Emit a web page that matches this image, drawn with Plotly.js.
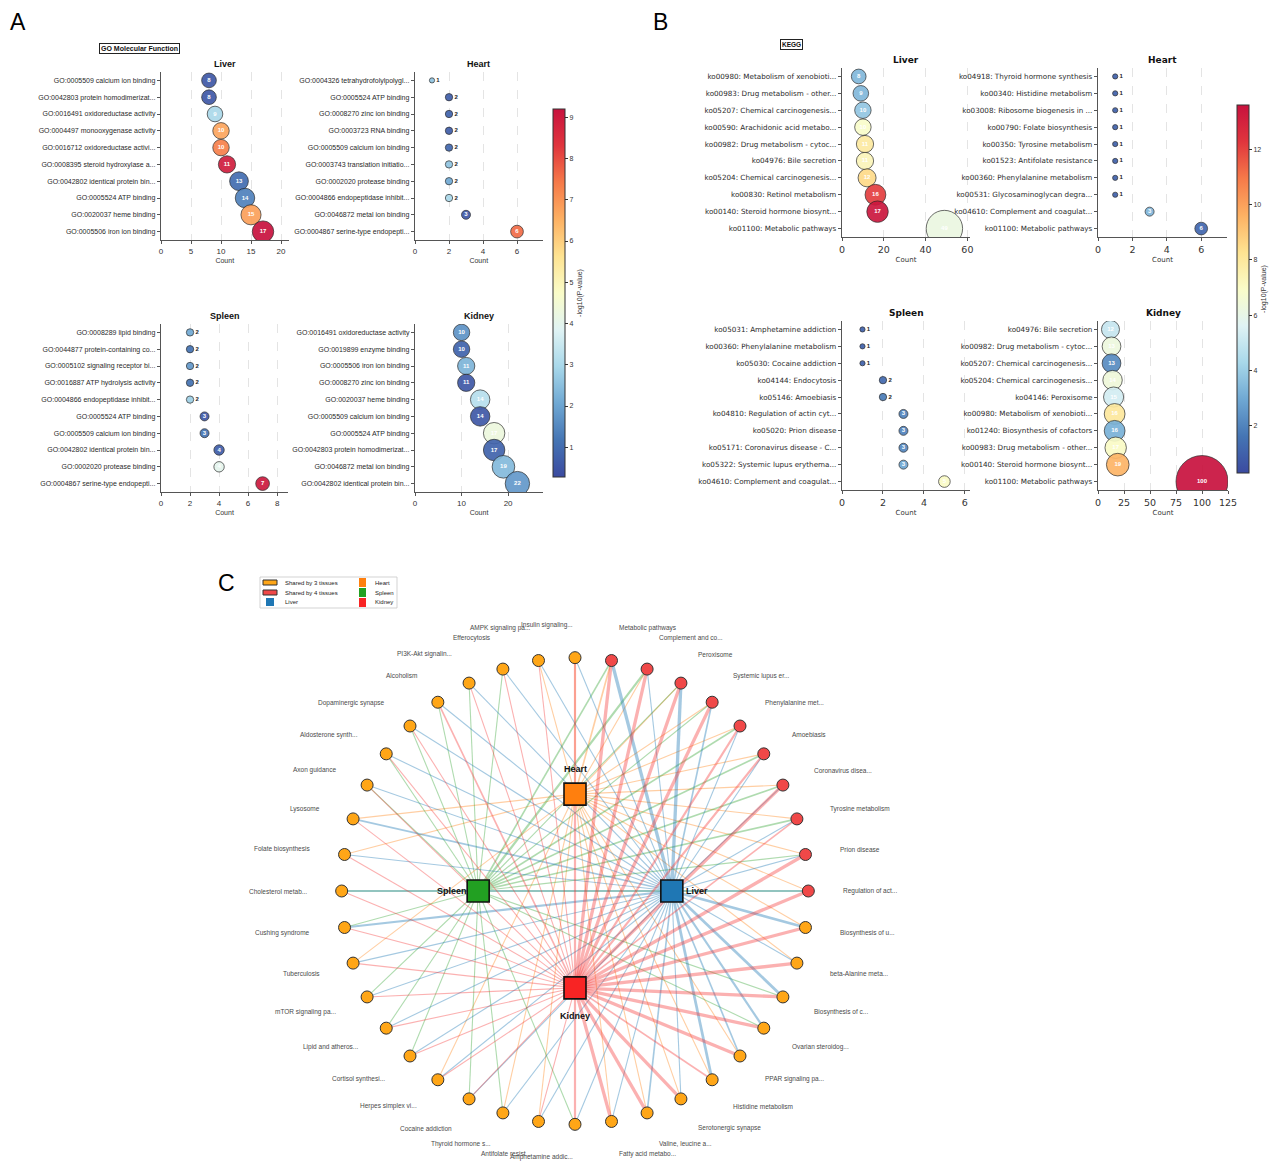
<!DOCTYPE html>
<html>
<head>
<meta charset="utf-8">
<script src="https://cdn.plot.ly/plotly-3.0.1.min.js"></script>
<style>
  html, body { margin: 0; padding: 0; background: #fff; }
  #chart { width: 1281px; height: 1170px; }
</style>
</head>
<body>
<div id="chart"></div>
<script>
// ---- GO Molecular Function (panel A) ----
var goLiverTerms = ['GO:0005509 calcium ion binding', 'GO:0042803 protein homodimerizat...', 'GO:0016491 oxidoreductase activity',
  'GO:0004497 monooxygenase activity', 'GO:0016712 oxidoreductase activi...', 'GO:0008395 steroid hydroxylase a...',
  'GO:0042802 identical protein bin...', 'GO:0005524 ATP binding', 'GO:0020037 heme binding', 'GO:0005506 iron ion binding'];
var goLiverCount = [8, 8, 9, 10, 10, 11, 13, 14, 15, 17];
var goLiverLogP = [0.6, 0.6, 3.0, 6.7, 7.3, 8.9, 1.0, 1.4, 6.8, 9.2];

var goHeartTerms = ['GO:0004326 tetrahydrofolylpolygl...', 'GO:0005524 ATP binding', 'GO:0008270 zinc ion binding',
  'GO:0003723 RNA binding', 'GO:0005509 calcium ion binding', 'GO:0003743 translation initiatio...',
  'GO:0002020 protease binding', 'GO:0004866 endopeptidase inhibit...', 'GO:0046872 metal ion binding',
  'GO:0004867 serine-type endopepti...'];
var goHeartCount = [1, 2, 2, 2, 2, 2, 2, 2, 3, 6];
var goHeartLogP = [2.6, 0.7, 0.8, 0.7, 0.9, 2.6, 2.1, 3.0, 0.6, 7.6];

var goSpleenTerms = ['GO:0008289 lipid binding', 'GO:0044877 protein-containing co...', 'GO:0005102 signaling receptor bi...',
  'GO:0016887 ATP hydrolysis activity', 'GO:0004866 endopeptidase inhibit...', 'GO:0005524 ATP binding',
  'GO:0005509 calcium ion binding', 'GO:0042802 identical protein bin...', 'GO:0002020 protease binding',
  'GO:0004867 serine-type endopepti...'];
var goSpleenCount = [2, 2, 2, 2, 2, 3, 3, 4, 4, 7];
var goSpleenLogP = [2.1, 1.1, 1.8, 1.1, 2.8, 0.6, 1.1, 0.7, 4.0, 9.0];

var goKidneyTerms = ['GO:0016491 oxidoreductase activity', 'GO:0019899 enzyme binding', 'GO:0005506 iron ion binding',
  'GO:0008270 zinc ion binding', 'GO:0020037 heme binding', 'GO:0005509 calcium ion binding', 'GO:0005524 ATP binding',
  'GO:0042803 protein homodimerizat...', 'GO:0046872 metal ion binding', 'GO:0042802 identical protein bin...'];
var goKidneyCount = [10, 10, 11, 11, 14, 14, 17, 17, 19, 22];
var goKidneyLogP = [1.7, 0.8, 2.3, 0.6, 3.2, 0.6, 4.3, 0.8, 2.4, 1.8];

// ---- KEGG (panel B) ----
var keggLiverTerms = ['ko00980: Metabolism of xenobioti...', 'ko00983: Drug metabolism - other...', 'ko05207: Chemical carcinogenesis...',
  'ko00590: Arachidonic acid metabo...', 'ko00982: Drug metabolism - cytoc...', 'ko04976: Bile secretion',
  'ko05204: Chemical carcinogenesis...', 'ko00830: Retinol metabolism', 'ko00140: Steroid hormone biosynt...',
  'ko01100: Metabolic pathways'];
var keggLiverCount = [8, 9, 10, 10, 11, 11, 12, 16, 17, 49];
var keggLiverLogP = [3.4, 3.4, 3.8, 6.9, 7.9, 7.3, 8.5, 12.1, 13.4, 6.2];

var keggHeartTerms = ['ko04918: Thyroid hormone synthesis', 'ko00340: Histidine metabolism', 'ko03008: Ribosome biogenesis in ...',
  'ko00790: Folate biosynthesis', 'ko00350: Tyrosine metabolism', 'ko01523: Antifolate resistance',
  'ko00360: Phenylalanine metabolism', 'ko00531: Glycosaminoglycan degra...', 'ko04610: Complement and coagulat...',
  'ko01100: Metabolic pathways'];
var keggHeartCount = [1, 1, 1, 1, 1, 1, 1, 1, 3, 6];
var keggHeartLogP = [1.0, 1.0, 1.0, 1.0, 1.0, 1.0, 1.0, 1.0, 3.3, 1.2];

var keggSpleenTerms = ['ko05031: Amphetamine addiction', 'ko00360: Phenylalanine metabolism', 'ko05030: Cocaine addiction',
  'ko04144: Endocytosis', 'ko05146: Amoebiasis', 'ko04810: Regulation of actin cyt...', 'ko05020: Prion disease',
  'ko05171: Coronavirus disease - C...', 'ko05322: Systemic lupus erythema...', 'ko04610: Complement and coagulat...'];
var keggSpleenCount = [1, 1, 1, 2, 2, 3, 3, 3, 3, 5];
var keggSpleenLogP = [1.0, 1.0, 1.0, 1.3, 1.8, 2.0, 2.0, 2.1, 2.9, 7.0];

var keggKidneyTerms = ['ko04976: Bile secretion', 'ko00982: Drug metabolism - cytoc...', 'ko05207: Chemical carcinogenesis...',
  'ko05204: Chemical carcinogenesis...', 'ko04146: Peroxisome', 'ko00980: Metabolism of xenobioti...',
  'ko01240: Biosynthesis of cofactors', 'ko00983: Drug metabolism - other...', 'ko00140: Steroid hormone biosynt...',
  'ko01100: Metabolic pathways'];
var keggKidneyCount = [12, 13, 13, 14, 15, 16, 16, 17, 19, 100];
var keggKidneyLogP = [5.0, 6.3, 2.2, 6.4, 5.3, 8.0, 3.2, 7.0, 9.5, 13.6];

// ---- shared pathway network (panel C), counter-clockwise from 3 o'clock ----
var tissues = ['Liver', 'Heart', 'Spleen', 'Kidney'];
var pathways = ['Regulation of act...', 'Prion disease', 'Tyrosine metabolism', 'Coronavirus disea...', 'Amoebiasis',
  'Phenylalanine met...', 'Systemic lupus er...', 'Peroxisome', 'Complement and co...', 'Metabolic pathways',
  'Insulin signaling...', 'AMPK signaling pa...', 'Efferocytosis', 'PI3K-Akt signalin...', 'Alcoholism',
  'Dopaminergic synapse', 'Aldosterone synth...', 'Axon guidance', 'Lysosome', 'Folate biosynthesis',
  'Cholesterol metab...', 'Cushing syndrome', 'Tuberculosis', 'mTOR signaling pa...', 'Lipid and atheros...',
  'Cortisol synthesi...', 'Herpes simplex vi...', 'Cocaine addiction', 'Thyroid hormone s...', 'Antifolate resist...',
  'Amphetamine addic...', 'Fatty acid metabo...', 'Valine, leucine a...', 'Serotonergic synapse', 'Histidine metabolism',
  'PPAR signaling pa...', 'Ovarian steroidog...', 'Biosynthesis of c...', 'beta-Alanine meta...', 'Biosynthesis of u...'];
// edge weight from each tissue to each pathway (0 = pathway not enriched in that tissue)
var liverEdge  = [1.5, 1, 1, 1, 1, 1, 1.5, 3, 1, 3,  1, 1, 1, 1, 1, 1, 1, 1, 1.5, 1,  1.5, 2, 1, 1, 1, 1, 1, 1, 1, 1,  1, 1, 1.5, 1, 2.5, 1.5, 2, 2.5, 1, 2.5];
var heartEdge  = [1, 1, 1, 1, 1, 1, 1, 1, 1, 1.5,  1, 1, 0, 0, 0, 0, 0, 0, 1, 1,  0, 0, 1, 0, 0, 0, 1, 0, 1, 1,  0, 1, 1, 1, 1, 1, 0, 0, 1, 1];
var spleenEdge = [1.5, 1, 1.5, 1.5, 1.5, 1.5, 1, 1, 2, 1.5,  0, 0, 1, 1, 1, 1, 1, 1, 0, 0,  1.5, 1, 0, 1, 1, 1, 0, 1, 1, 0,  1, 0, 0, 0, 0, 0, 1, 1, 0, 0];
var kidneyEdge = [3, 3, 1.5, 3, 2, 2, 3, 3, 3, 3,  2, 1, 1, 1, 1.5, 1, 1, 1, 1, 1,  1, 1, 1, 1, 1, 1, 1, 1, 0, 1,  2, 3, 3, 3, 1.5, 3, 3, 3, 3, 3];

// ---------------------------------------------------------------
var W = 1281, H = 1170;
function px(x) { return x / W; }
function py(y) { return 1 - y / H; }

var CSCALE = [[0, '#3b4aa0'], [0.1, '#4575b4'], [0.2, '#6fa8d3'], [0.3, '#a8d8ea'], [0.4, '#e0f3f4'],
  [0.5, '#fafcc8'], [0.6, '#fee391'], [0.7, '#fdb163'], [0.8, '#f67a49'], [0.9, '#e0353d'], [1, '#c8123e']];

var FA = 'Liberation Sans, Arial, sans-serif';
var FB = 'DejaVu Sans, sans-serif';

function dotTrace(terms, counts, logp, n, cmin, cmax, cbar) {
  return {
    type: 'scatter', mode: 'markers+text',
    x: counts, y: terms,
    xaxis: 'x' + n, yaxis: 'y' + n,
    text: counts.map(String),
    textposition: counts.map(function (c) { return c <= 2 ? 'middle right' : 'middle center'; }),
    textfont: { family: FA, size: 6, weight: 'bold',
      color: counts.map(function (c) { return c <= 2 ? '#222' : '#fff'; }) },
    marker: {
      size: counts.map(function (c) { return 5.2 * Math.sqrt(c); }), sizemode: 'diameter',
      color: logp, cmin: cmin, cmax: cmax, colorscale: CSCALE,
      showscale: !!cbar, colorbar: cbar,
      opacity: 0.92, line: { color: 'rgba(30,30,30,0.7)', width: 1 }
    },
    cliponaxis: true, showlegend: false, hoverinfo: 'skip'
  };
}

function cbar(xp, y0, y1, vals) {
  return {
    x: px(xp), xanchor: 'left', xpad: 0, ypad: 0,
    y: py((y0 + y1) / 2), yanchor: 'middle', len: (y1 - y0) / H, lenmode: 'fraction',
    thickness: 12, thicknessmode: 'pixels', outlinewidth: 1, outlinecolor: '#333',
    ticks: 'outside', ticklen: 3, tickcolor: '#333', tickvals: vals,
    tickfont: { family: FA, size: 7, color: '#333' },
    title: { text: '-log10(P-value)', side: 'right', font: { family: FA, size: 7, color: '#333' } }
  };
}

var data = [
  dotTrace(goLiverTerms, goLiverCount, goLiverLogP, '', 0.28, 9.2, cbar(553, 109, 477, [1, 2, 3, 4, 5, 6, 7, 8, 9])),
  dotTrace(goHeartTerms, goHeartCount, goHeartLogP, '2', 0.28, 9.2),
  dotTrace(goSpleenTerms, goSpleenCount, goSpleenLogP, '3', 0.28, 9.2),
  dotTrace(goKidneyTerms, goKidneyCount, goKidneyLogP, '4', 0.28, 9.2),
  dotTrace(keggLiverTerms, keggLiverCount, keggLiverLogP, '5', 0.3, 13.6, cbar(1237, 105, 473, [2, 4, 6, 8, 10, 12])),
  dotTrace(keggHeartTerms, keggHeartCount, keggHeartLogP, '6', 0.3, 13.6),
  dotTrace(keggSpleenTerms, keggSpleenCount, keggSpleenLogP, '7', 0.3, 13.6),
  dotTrace(keggKidneyTerms, keggKidneyCount, keggKidneyLogP, '8', 0.3, 13.6)
];

var layout = {
  width: W, height: H, margin: { l: 0, r: 0, t: 0, b: 0 },
  paper_bgcolor: '#fff', plot_bgcolor: 'rgba(0,0,0,0)', showlegend: false,
  annotations: [], shapes: []
};

function addPanel(n, terms, x0, x1, y0, y1, xmax, dtick, fam, tickSize, labSize, titleText) {
  var xs = 'xaxis' + n, ys = 'yaxis' + n;
  layout[xs] = {
    domain: [px(x0), px(x1)], range: [0, xmax], dtick: dtick, tick0: 0, anchor: 'y' + n,
    showline: true, linecolor: '#555', linewidth: 1.2, ticks: 'outside', ticklen: 3, tickcolor: '#555',
    showgrid: true, gridcolor: '#d9d9d9', griddash: 'dash', gridwidth: 0.7, zeroline: false,
    tickfont: { family: fam, size: tickSize, color: '#333' },
    title: { text: 'Count', font: { family: fam, size: 7, color: '#333' }, standoff: 3 }
  };
  layout[ys] = {
    domain: [py(y1), py(y0)], type: 'category', categoryorder: 'array', categoryarray: terms,
    range: [terms.length - 0.5, -0.5], anchor: 'x' + n,
    showline: true, linecolor: '#555', linewidth: 1.2, ticks: 'outside', ticklen: 3, tickcolor: '#555',
    showgrid: false, zeroline: false,
    tickfont: { family: fam, size: labSize, color: '#2a2a2a' }
  };
  layout.annotations.push({ xref: 'paper', yref: 'paper', x: px((x0 + x1) / 2), y: py(y0 - 8),
    text: '<b>' + titleText + '</b>', showarrow: false, xanchor: 'center', yanchor: 'middle',
    font: { family: fam, size: 9, color: '#111' } });
}

addPanel('', goLiverTerms, 161, 288.5, 72, 240, 21.25, 5, FA, 8, 7, 'Liver');
addPanel('2', goHeartTerms, 415, 542.5, 72, 240, 7.5, 2, FA, 8, 7, 'Heart');
addPanel('3', goSpleenTerms, 161, 288, 324, 492, 8.75, 2, FA, 8, 7, 'Spleen');
addPanel('4', goKidneyTerms, 415, 543, 324, 492, 27.5, 10, FA, 8, 7, 'Kidney');
addPanel('5', keggLiverTerms, 842, 970, 68, 237, 61.25, 20, FB, 9.5, 7.2, 'Liver');
addPanel('6', keggHeartTerms, 1098, 1227, 68, 237, 7.5, 2, FB, 9.5, 7.2, 'Heart');
addPanel('7', keggSpleenTerms, 842, 970, 321, 490, 6.25, 2, FB, 9.5, 7.2, 'Spleen');
addPanel('8', keggKidneyTerms, 1098, 1228, 321, 490, 125, 25, FB, 9.5, 7.2, 'Kidney');

// panel letters and boxed headers
[['A', 18, 22], ['B', 660, 22], ['C', 226, 583]].forEach(function (p) {
  layout.annotations.push({ xref: 'paper', yref: 'paper', x: px(p[1]), y: py(p[2]), text: p[0],
    showarrow: false, xanchor: 'center', yanchor: 'middle', font: { family: FA, size: 23, color: '#000' } });
});
[['GO Molecular Function', 139, 49, 7], ['KEGG', 791, 45, 6.5]].forEach(function (p) {
  layout.annotations.push({ xref: 'paper', yref: 'paper', x: px(p[1]), y: py(p[2]), text: '<b>' + p[0] + '</b>',
    showarrow: false, xanchor: 'center', yanchor: 'middle', bgcolor: '#fff', bordercolor: '#222',
    borderwidth: 1, borderpad: 1, font: { family: FA, size: p[3], color: '#111' } });
});

// ---- network ----
layout.xaxis9 = { domain: [px(225), px(925)], range: [-1.5, 1.5], visible: false, anchor: 'y9' };
layout.yaxis9 = { domain: [0, py(600)], range: [-(1170 - 891) / 233.33, (891 - 600) / 233.33], visible: false, anchor: 'x9' };

var hubColor = { Liver: '#1f77b4', Heart: '#ff7f0e', Spleen: '#22a022', Kidney: '#f82424' };
var edgeColor = { Liver: 'rgba(31,119,180,0.4)', Heart: 'rgba(255,127,14,0.38)',
  Spleen: 'rgba(44,160,44,0.38)', Kidney: 'rgba(245,50,50,0.38)' };
var edges = { Liver: liverEdge, Heart: heartEdge, Spleen: spleenEdge, Kidney: kidneyEdge };

var N = pathways.length;
var ang = pathways.map(function (_, k) { return 2 * Math.PI * k / N; });
var nodeX = ang.map(Math.cos), nodeY = ang.map(Math.sin);
var hubR = 0.415;
var hubX = tissues.map(function (_, i) { return hubR * Math.cos(Math.PI / 2 * i); });
var hubY = tissues.map(function (_, i) { return hubR * Math.sin(Math.PI / 2 * i); });

['Heart', 'Spleen', 'Liver', 'Kidney'].forEach(function (t) {
  var h = tissues.indexOf(t), w = edges[t];
  var widths = w.filter(function (v, i, a) { return v > 0 && a.indexOf(v) === i; });
  widths.forEach(function (lw) {
    var xs = [], ys = [];
    w.forEach(function (v, k) {
      if (v === lw) { xs.push(hubX[h], nodeX[k], null); ys.push(hubY[h], nodeY[k], null); }
    });
    data.push({ type: 'scatter', mode: 'lines', x: xs, y: ys, xaxis: 'x9', yaxis: 'y9',
      line: { color: edgeColor[t], width: lw * 1.1 }, hoverinfo: 'skip', showlegend: false, cliponaxis: false });
  });
});

var shared = pathways.map(function (_, k) {
  return tissues.filter(function (t) { return edges[t][k] > 0; }).length;
});
data.push({ type: 'scatter', mode: 'markers', x: nodeX, y: nodeY, xaxis: 'x9', yaxis: 'y9',
  marker: { size: 12, color: shared.map(function (s) { return s === 4 ? '#f04848' : '#ffa617'; }),
    line: { color: '#333', width: 1 } }, hoverinfo: 'skip', showlegend: false, cliponaxis: false });
data.push({ type: 'scatter', mode: 'markers', x: hubX, y: hubY, xaxis: 'x9', yaxis: 'y9',
  marker: { symbol: 'square', size: 22, color: tissues.map(function (t) { return hubColor[t]; }),
    line: { color: '#111', width: 1.6 } }, hoverinfo: 'skip', showlegend: false, cliponaxis: false });

pathways.forEach(function (p, k) {
  var c = Math.cos(ang[k]);
  layout.annotations.push({ xref: 'x9', yref: 'y9', x: 1.14 * c, y: 1.14 * Math.sin(ang[k]), text: p,
    showarrow: false, xanchor: c > 1e-9 ? 'left' : 'right', yanchor: 'middle',
    font: { family: FA, size: 6.5, color: '#4a4a4a' } });
});
var hubLab = { Liver: [12, 0, 'left', 'middle'], Heart: [0, 18, 'center', 'bottom'],
  Spleen: [-9, 0, 'right', 'middle'], Kidney: [0, -21, 'center', 'top'] };
tissues.forEach(function (t, i) {
  var o = hubLab[t];
  layout.annotations.push({ xref: 'x9', yref: 'y9', x: hubX[i], y: hubY[i], xshift: o[0], yshift: o[1],
    text: '<b>' + t + '</b>', showarrow: false, xanchor: o[2], yanchor: o[3],
    font: { family: FA, size: 9, color: '#111' } });
});

// network legend
layout.shapes.push({ type: 'rect', xref: 'paper', yref: 'paper', x0: px(260), x1: px(397), y0: py(608), y1: py(577),
  line: { color: '#c8c8c8', width: 0.8 }, fillcolor: '#fff' });
var legendItems = [
  ['Shared by 3 tissues', '#ffa617', 263, 277, 580, 585, 283, 582.5, true],
  ['Shared by 4 tissues', '#f04848', 263, 277, 590, 595, 283, 592.5, true],
  ['Liver', hubColor.Liver, 266, 274, 598, 606, 283, 602, false],
  ['Heart', hubColor.Heart, 359, 366, 578, 587, 373, 582.5, false],
  ['Spleen', hubColor.Spleen, 359, 366, 588, 597, 373, 592.5, false],
  ['Kidney', hubColor.Kidney, 359, 366, 598, 607, 373, 602, false]
];
legendItems.forEach(function (it) {
  layout.shapes.push({ type: 'rect', xref: 'paper', yref: 'paper', x0: px(it[2]), x1: px(it[3]), y0: py(it[5]), y1: py(it[4]),
    fillcolor: it[1], line: { color: it[8] ? '#333' : it[1], width: it[8] ? 1 : 0 } });
  layout.annotations.push({ xref: 'paper', yref: 'paper', x: px(it[6]), y: py(it[7]), text: it[0], showarrow: false,
    xanchor: 'left', yanchor: 'middle', font: { family: FA, size: 6, color: '#222' } });
});

Plotly.newPlot('chart', data, layout, { displayModeBar: false, staticPlot: true });
</script>
</body>
</html>
